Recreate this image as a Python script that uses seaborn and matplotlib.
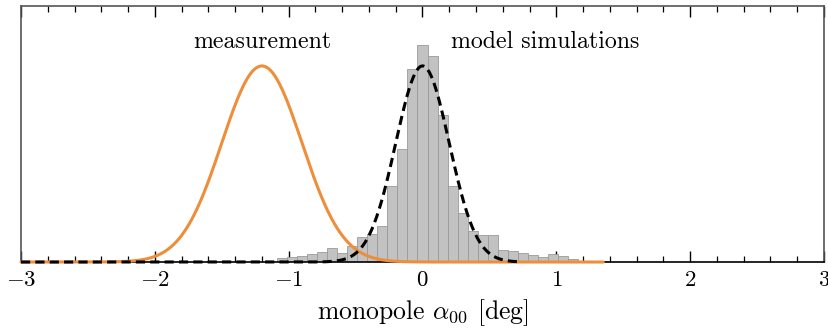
import numpy as np
import pandas as pd
import matplotlib
matplotlib.use("Agg")
import matplotlib.pyplot as plt
import seaborn as sns

# ---- data ----
# histogram of model simulations (bin width 0.075, heights relative to Gaussian peak)
bin_start = -1.0875
bin_width = 0.075
hist_heights = [0.020, 0.026, 0.031, 0.041, 0.051, 0.071, 0.046, 0.082, 0.128, 0.143,
                0.184, 0.388, 0.577, 0.985, 1.107, 1.051, 0.750, 0.388, 0.250, 0.158,
                0.138, 0.138, 0.061, 0.056, 0.046, 0.036, 0.026, 0.041, 0.031, 0.015,
                0.005, 0.005, 0.005]
# Gaussian fits (mean, sigma) in degrees
meas_mu, meas_sigma = -1.2, 0.3
model_mu, model_sigma = 0.0, 0.2
x_ticks = [-3, -2, -1, 0, 1, 2, 3]
label_meas = "measurement"
label_model = "model simulations"
xlabel = r"monopole $\alpha_{00}$ [deg]"

sns.set_theme(style="white")
plt.rcParams["font.family"] = ["cmr10", "DejaVu Serif"]
plt.rcParams["mathtext.fontset"] = "cm"
plt.rcParams["axes.formatter.use_mathtext"] = True
plt.rcParams["axes.unicode_minus"] = True
plt.rcParams["text.color"] = "black"
plt.rcParams["axes.labelcolor"] = "black"
plt.rcParams["xtick.labelcolor"] = "black"

fig = plt.figure(figsize=(8.29, 3.30), dpi=100)
ax = fig.add_axes([0.0253, 0.206, 0.9687, 0.776])

n = len(hist_heights)
centers = [bin_start + bin_width * (i + 0.5) for i in range(n)]
hdf = pd.DataFrame({"x": centers, "w": hist_heights})
sns.histplot(data=hdf, x="x", weights="w", binwidth=bin_width,
             binrange=(bin_start, bin_start + bin_width * n), ax=ax, stat="count",
             color="#c2c2c2", alpha=1.0, edgecolor="#9a9a9a", linewidth=0.6, zorder=1)

xm = np.linspace(-3.0, 1.35, 600)
ym = np.exp(-0.5 * ((xm - meas_mu) / meas_sigma) ** 2)
xs = np.linspace(-3.0, 0.72, 600)
ys = np.exp(-0.5 * ((xs - model_mu) / model_sigma) ** 2)
sns.lineplot(x=xm, y=ym, ax=ax, color="#EE8E3B", linewidth=2.2, zorder=3, clip_on=False)
sns.lineplot(x=xs, y=ys, ax=ax, color="black", linewidth=2.2, zorder=4, clip_on=False)
ax.lines[-1].set_dashes([3.0, 1.7])

ax.set_xlim(-3, 3)
ax.set_ylim(0, 1.306)
ax.set_xticks(x_ticks)
ax.set_xticks(np.arange(-3, 3.01, 0.2), minor=True)
ax.set_yticks([])
ax.tick_params(axis="x", which="major", direction="in", length=8, width=1.0,
               color="black", labelcolor="black", top=True, bottom=True,
               labelsize=16.5, pad=6)
ax.tick_params(axis="x", which="minor", direction="in", length=4, width=0.9,
               color="black", top=True, bottom=True)
ax.set_ylabel("")
ax.set_xlabel(xlabel, fontsize=18.5, labelpad=5, color="black")
for s in ["left", "right", "top"]:
    ax.spines[s].set_color("#555555")
    ax.spines[s].set_linewidth(1.2)
ax.spines["bottom"].set_color("black")
ax.spines["bottom"].set_linewidth(1.2)

ax.text(-1.2, 1.122, label_meas, fontsize=17.2, ha="center", va="center", color="black")
ax.text(0.92, 1.122, label_model, fontsize=17.2, ha="center", va="center", color="black")

fig.savefig("out.png", dpi=100)
